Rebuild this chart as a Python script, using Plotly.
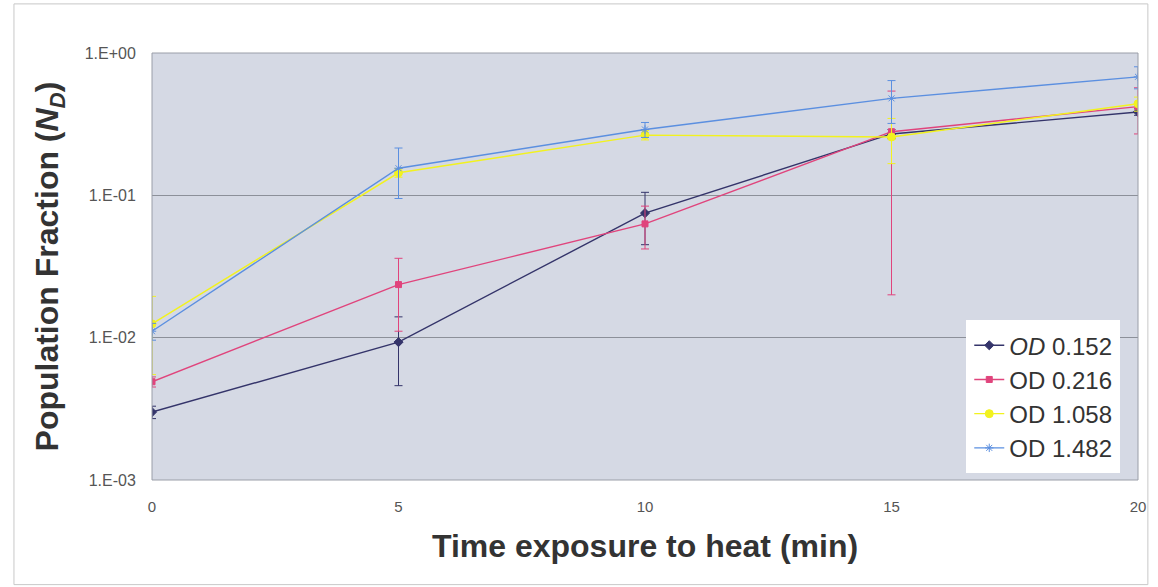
import plotly.graph_objects as go

# Heat exposure time (min)
time_min = [0, 5, 10, 15, 20]

# Surviving population fraction for each culture density
od_0152 = [0.0030, 0.0093, 0.075, 0.27, 0.385]
od_0216 = [0.0049, 0.0236, 0.063, 0.28, 0.42]
od_1058 = [0.0125, 0.144, 0.265, 0.257, 0.44]
od_1482 = [0.0111, 0.155, 0.29, 0.48, 0.68]

# Standard deviations
err_0152 = [0.0003, 0.0047, 0.030, 0.02, 0.02]
err_0216 = [0.0004, 0.0125, 0.021, 0.26, 0.15]
err_1058 = [0.0070, 0.010, 0.020, 0.09, 0.05]
err_1482 = [0.0015, 0.060, 0.035, 0.16, 0.12]

series_names = ["<i>OD</i> 0.152", "OD 0.216", "OD 1.058", "OD 1.482"]
y_ticks = [0.001, 0.01, 0.1, 1]
y_tick_text = ["1.E-03", "1.E-02", "1.E-01", "1.E+00"]
x_ticks = [0, 5, 10, 15, 20]

styles = [
    dict(color="#34346a", symbol="diamond", size=7),
    dict(color="#e0447c", symbol="square", size=6),
    dict(color="#f2f21e", symbol="circle", size=8),
    dict(color="#5b8fe0", symbol="asterisk-open", size=7),
]

FONT = "Liberation Sans, Arial, sans-serif"

fig = go.Figure()
for name, ys, errs, st in zip(series_names,
                              [od_0152, od_0216, od_1058, od_1482],
                              [err_0152, err_0216, err_1058, err_1482],
                              styles):
    fig.add_trace(go.Scatter(
        x=time_min, y=ys, name=name, mode="lines+markers",
        line=dict(color=st["color"], width=1.4),
        marker=dict(color=st["color"], symbol=st["symbol"], size=st["size"],
                    line=dict(color=st["color"], width=1)),
        error_y=dict(type="data", array=errs, visible=True,
                     color=st["color"], thickness=1, width=4),
    ))

fig.update_layout(
    width=1158, height=587,
    paper_bgcolor="white",
    plot_bgcolor="#d5d9e4",
    margin=dict(l=152, r=13, t=53, b=107),
    font=dict(family=FONT, color="#333333"),
    showlegend=True,
    legend=dict(
        x=0.982, y=0.016, xanchor="right", yanchor="bottom",
        bgcolor="white", bordercolor="white", borderwidth=3,
        font=dict(size=24, color="#333333"),
        tracegroupgap=0, itemwidth=30,
    ),
    xaxis=dict(
        range=[0, 20], tickvals=x_ticks, showgrid=False, zeroline=False,
        ticks="outside", ticklen=13, tickcolor="rgba(0,0,0,0)", showline=False,
        tickfont=dict(family=FONT, size=15, color="#555555"),
        title=dict(text="<b>Time exposure to heat (min)</b>",
                   font=dict(family=FONT, size=32, color="#333333"),
                   standoff=20),
    ),
    yaxis=dict(
        type="log", range=[-3, 0], tickvals=y_ticks, ticktext=y_tick_text,
        showgrid=True, gridcolor="#8c9099", gridwidth=1, zeroline=False,
        ticks="outside", ticklen=12, tickcolor="rgba(0,0,0,0)", showline=False,
        tickfont=dict(family=FONT, size=16, color="#555555"),
        title=dict(text="<b>Population Fraction (<i>N</i><sub><i>D</i></sub>)</b>",
                   font=dict(family=FONT, size=32, color="#333333"), standoff=16),
    ),
    shapes=[
        dict(type="rect", xref="paper", yref="paper", x0=0, x1=1, y0=0, y1=1,
             line=dict(color="#9a9ea8", width=1)),
        dict(type="rect", xref="paper", yref="paper", x0=-0.14, x1=1.01, y0=-0.245, y1=1.115,
             line=dict(color="#c8c8c8", width=1)),
    ],
)

fig.write_html("out.html")
